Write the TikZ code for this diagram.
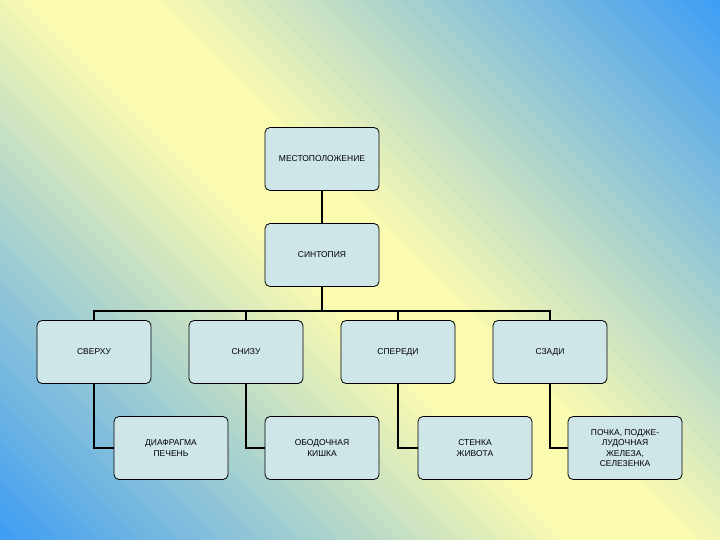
\documentclass[tikz,border=0pt]{standalone}
\usepackage{fontspec}
\setmainfont{Liberation Sans}
\usetikzlibrary{positioning}
\definecolor{boxfill}{HTML}{CFE6E8}
\definecolor{bgblue}{HTML}{3C9CF5}
\definecolor{bgyellow}{HTML}{FAFAB0}
\tikzset{
  box/.style={draw=black, thick, fill=boxfill, rounded corners=5pt,
    minimum width=114pt, minimum height=63pt, align=center,
    font=\fontsize{8.5}{10.5}\selectfont},
  link/.style={draw=black, line width=1.5pt}
}
\begin{document}
\begin{tikzpicture}[x=1pt,y=-1pt]
  \useasboundingbox (0,0) rectangle (720,540);
  % background bands
  \begin{scope}
    \clip (0,0) rectangle (720,540);
    \foreach \s in {-560,-540,...,720}{
      \pgfmathtruncatemacro{\pct}{min(100,max(0,(abs(\s+10-90)-60)/570*100))}
      \fill[bgblue!\pct!bgyellow] (\s-1000,-1000) -- (\s+1000,1000)
        -- (\s+1021,1000) -- (\s-979,-1000) -- cycle;
    }
  \end{scope}

  %top
  \node[box] (loc) at (322,159) {МЕСТОПОЛОЖЕНИЕ};
  \node[box] (syn) at (322,255) {СИНТОПИЯ};
  %middle row
  \node[box] (up)    at (94,352)  {СВЕРХУ};
  \node[box] (down)  at (246,352) {СНИЗУ};
  \node[box] (front) at (398,352) {СПЕРЕДИ};
  \node[box] (back)  at (550,352) {СЗАДИ};
  %bottom row
  \node[box] (diaph) at (171,448) {ДИАФРАГМА\\ПЕЧЕНЬ};
  \node[box] (colon) at (322,448) {ОБОДОЧНАЯ\\КИШКА};
  \node[box] (wall)  at (475,448) {СТЕНКА\\ЖИВОТА};
  \node[box] (kidn)  at (625,448) {ПОЧКА, ПОДЖЕ-\\ЛУДОЧНАЯ\\ЖЕЛЕЗА,\\СЕЛЕЗЕНКА};

  \coordinate (bus) at (322,311);
  \draw[link] (loc) -- (syn);
  \draw[link] (syn) -- (bus);
  \foreach \n in {up,down,front,back}
    \draw[link] (bus) -| (\n);
  \draw[link] (up.south) |- (diaph.west);
  \draw[link] (down.south) |- (colon.west);
  \draw[link] (front.south) |- (wall.west);
  \draw[link] (back.south) |- (kidn.west);
\end{tikzpicture}
\end{document}
